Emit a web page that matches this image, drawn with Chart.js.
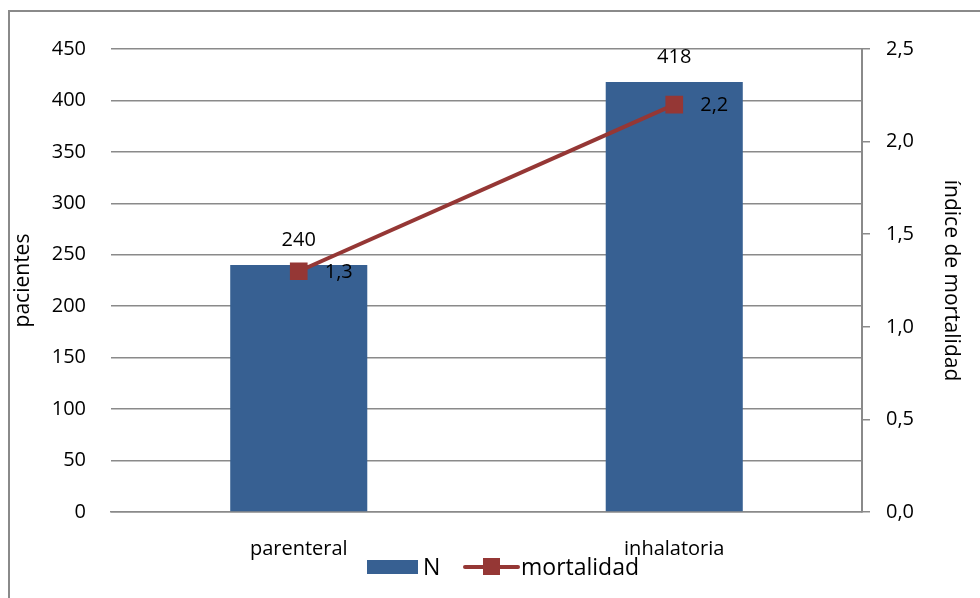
<!DOCTYPE html>
<html>
<head>
<meta charset="utf-8">
<script src="https://cdn.jsdelivr.net/npm/chart.js@4/dist/chart.umd.min.js"></script>
<style>
  html, body { margin: 0; padding: 0; background: #fff; }
  #wrap { width: 980px; height: 598px; }
</style>
</head>
<body>
<div id="wrap"><canvas id="grafico" width="980" height="598"></canvas></div>
<script>
// datos
const categorias = ['parenteral', 'inhalatoria'];
const pacientes = [240, 418];
const mortalidad = [1.3, 2.2];

const azul = '#376092';
const rojo = '#953735';
const gris = '#8a8a8a';
const fuente = "'Open Sans', sans-serif";
const tam = 20;

const coma = v => v.toFixed(1).replace('.', ',');

// marco del gráfico + etiquetas de datos + leyenda
const extras = {
  id: 'extras',
  beforeDraw(chart) {
    const ctx = chart.ctx;
    ctx.save();
    ctx.strokeStyle = gris;
    ctx.lineWidth = 2;
    ctx.strokeRect(9, 11, 1100, 1100);
    ctx.restore();
  },
  afterDatasetsDraw(chart) {
    const ctx = chart.ctx;
    ctx.save();
    ctx.fillStyle = '#000';
    ctx.font = tam + 'px ' + fuente;
    ctx.textBaseline = 'middle';
    // etiquetas de las barras
    const barras = chart.getDatasetMeta(1).data;
    ctx.textAlign = 'center';
    barras.forEach((b, i) => {
      ctx.fillText(String(pacientes[i]), b.x, b.y - 25);
    });
    // etiquetas de la línea
    const puntos = chart.getDatasetMeta(0).data;
    ctx.textAlign = 'left';
    puntos.forEach((p, i) => {
      ctx.fillText(coma(mortalidad[i]), p.x + 26, p.y + 1);
    });
    ctx.restore();
  },
  afterDraw(chart) {
    const ctx = chart.ctx;
    ctx.save();
    const y = 567;
    ctx.fillStyle = azul;
    ctx.fillRect(367, 560, 51, 14);
    ctx.fillStyle = '#000';
    ctx.font = '23px ' + fuente;
    ctx.textBaseline = 'middle';
    ctx.textAlign = 'left';
    ctx.fillText('N', 423, y + 1);
    ctx.strokeStyle = rojo;
    ctx.lineWidth = 4;
    ctx.lineCap = 'round';
    ctx.beginPath();
    ctx.moveTo(465, y);
    ctx.lineTo(518, y);
    ctx.stroke();
    ctx.fillStyle = rojo;
    ctx.fillRect(483, y - 9, 17, 17);
    ctx.fillStyle = '#000';
    ctx.fillText('mortalidad', 521, y + 1);
    ctx.restore();
  }
};

new Chart(document.getElementById('grafico'), {
  data: {
    labels: categorias,
    datasets: [
      {
        type: 'line',
        label: 'mortalidad',
        data: mortalidad,
        yAxisID: 'y1',
        borderColor: rojo,
        backgroundColor: rojo,
        borderWidth: 4,
        pointStyle: 'rect',
        pointRadius: 12.5,
        pointHoverRadius: 12.5,
        pointBorderWidth: 0,
        order: 0
      },
      {
        type: 'bar',
        label: 'N',
        data: pacientes,
        yAxisID: 'y',
        backgroundColor: azul,
        categoryPercentage: 1,
        barPercentage: 0.365,
        order: 1
      }
    ]
  },
  options: {
    responsive: false,
    animation: false,
    events: [],
    layout: { padding: { top: 49, left: 0, right: 0, bottom: 0 } },
    plugins: {
      legend: { display: false },
      tooltip: { enabled: false }
    },
    scales: {
      x: {
        grid: { display: false, drawTicks: false },
        border: { display: true, color: gris, width: 1.5 },
        ticks: { color: '#000', font: { family: fuente, size: tam }, padding: 25 },
        afterFit(s) { s.height = 86; }
      },
      y: {
        position: 'left',
        min: 0,
        max: 450,
        ticks: { stepSize: 50, color: '#000', font: { family: fuente, size: tam }, padding: 25 },
        grid: { color: gris, lineWidth: 1.5, drawTicks: false },
        border: { display: false },
        title: {
          display: true,
          text: 'pacientes',
          color: '#000',
          font: { family: fuente, size: 21 },
          padding: { top: 10, bottom: 0 }
        },
        afterFit(s) { s.width = 111; }
      },
      y1: {
        position: 'right',
        min: 0,
        max: 2.5,
        ticks: {
          stepSize: 0.5,
          color: '#000',
          font: { family: fuente, size: tam },
          padding: 16,
          callback: v => coma(v)
        },
        grid: { drawOnChartArea: false, drawTicks: true, tickLength: 8, color: gris, lineWidth: 1.5 },
        border: { display: true, color: gris, width: 2 },
        title: {
          display: true,
          text: 'índice de mortalidad',
          color: '#000',
          font: { family: fuente, size: 21 },
          padding: { top: 16, bottom: 0 }
        },
        afterFit(s) { s.width = 118; }
      }
    }
  },
  plugins: [extras]
});
</script>
</body>
</html>
